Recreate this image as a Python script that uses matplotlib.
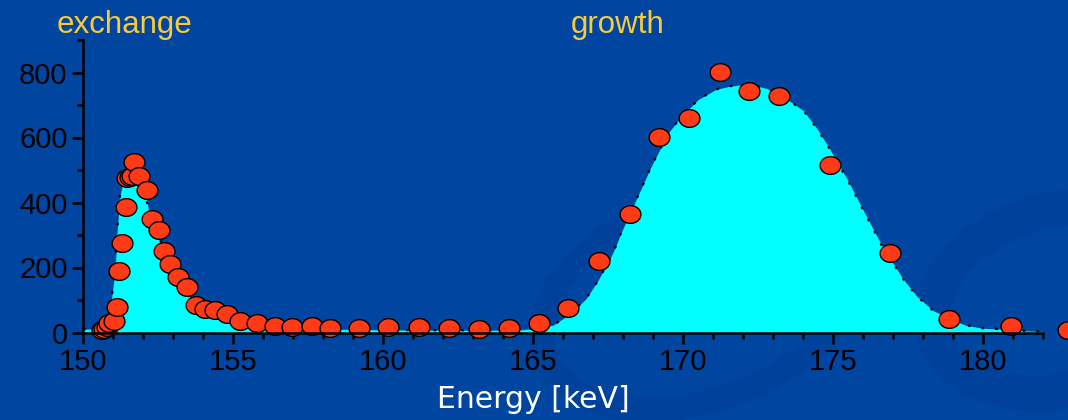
import matplotlib

matplotlib.use("Agg")
import matplotlib.pyplot as plt
import numpy as np
from matplotlib.patches import Ellipse
from matplotlib.path import Path
from matplotlib.ticker import MultipleLocator

# measured spectrum: energy [keV] and counts
energy = [
    150.62, 150.71, 150.79, 150.87, 151.02, 151.12, 151.21, 151.30, 151.42,
    151.48, 151.57, 151.64, 151.70, 151.88, 152.12, 152.30, 152.53, 152.71,
    152.90, 153.18, 153.48, 153.77, 154.05, 154.40, 154.79, 155.22, 155.81,
    156.40, 156.98, 157.62, 158.23, 159.20, 160.18, 161.20, 162.21, 163.19,
    164.21, 165.20, 166.18, 167.21, 168.23, 169.19, 170.21, 171.23, 172.20,
    173.21, 174.90, 176.90, 178.87, 180.92, 182.83,
]
counts = [
    8, 11, 18, 28, 36, 77, 189, 274, 385,
    476, 479, 481, 525, 482, 438, 348, 315, 252,
    211, 172, 139, 85, 72, 68, 58, 36, 28,
    21, 16, 21, 13, 13, 18, 18, 13, 10,
    13, 30, 76, 220, 364, 602, 659, 801, 742,
    729, 515, 246, 41, 20, 8,
]

# fitted line shape
fit_energy = [
    150.0, 150.5, 150.8, 150.96, 151.07, 151.14, 151.23, 151.32, 151.45,
    151.7, 152.0, 152.18, 152.46, 152.69, 153.01, 153.46, 153.9, 154.57,
    155.3, 156.0, 157.0, 158.5, 160.0, 162.0, 164.0, 164.57, 165.2, 165.68,
    166.2, 166.76, 167.14, 167.46, 167.73, 167.96, 168.46, 168.96, 169.54,
    170.0, 170.51, 171.1, 171.57, 172.18, 172.79, 173.4, 174.01, 174.46,
    174.81, 175.46, 176.03, 176.62, 177.34, 177.79, 178.34, 179.39, 180.0,
    180.72, 181.27, 182.0,
]
fit_counts = [
    10, 12, 30, 110, 192, 315, 418, 459, 465,
    468, 462, 377, 315, 254, 192, 121, 69, 44,
    28, 20, 14, 10, 8, 7, 7, 8, 14, 23,
    55, 103, 156, 208, 259, 312, 413, 515, 618,
    670, 717, 748, 758, 764, 751, 722, 683, 628,
    577, 474, 372, 269, 164, 112, 67, 23, 13,
    10, 6, 3,
]

x_ticks = [150, 155, 160, 165, 170, 175, 180]
y_ticks = [0, 200, 400, 600, 800]
peak_labels = ["exchange", "growth"]

BG = "#0046A0"
SWIRL = "#003D92"
FILL = "#00FFFF"
MARKER = "#FF3A17"
GOLD = "#F7CB3A"

# slightly flattened ellipse for the data markers
t = np.linspace(0, 2 * np.pi, 64)
ellipse = Path(np.column_stack([np.cos(t), 0.85 * np.sin(t)]), closed=True)

fig = plt.figure(figsize=(10.68, 4.2), dpi=100, facecolor=BG)

# faint background swirls of the slide template
bg = fig.add_axes([0, 0, 1, 1], zorder=-1)
bg.set_xlim(0, 1068)
bg.set_ylim(420, 0)
bg.axis("off")
bg.add_patch(Ellipse((700, 300), 330, 200, angle=-20, fill=False,
                     ec=SWIRL, lw=18, alpha=0.35))
bg.add_patch(Ellipse((1060, 300), 260, 180, angle=-15, fill=False,
                     ec=SWIRL, lw=26, alpha=0.35))

ax = fig.add_axes([83 / 1068, 87.5 / 420, 960 / 1068, 292.5 / 420])
ax.set_facecolor("none")

ax.fill_between(fit_energy, 0, fit_counts, color=FILL, lw=0, zorder=2)
ax.plot(fit_energy, fit_counts, color="black", lw=1.6,
        linestyle=(0, (1.2, 5)), zorder=3)
ax.plot(energy, counts, linestyle="none", marker=ellipse, ms=15,
        mfc=MARKER, mec="black", mew=1.0, zorder=4, clip_on=False)

ax.set_xlim(150, 182)
ax.set_ylim(0, 900)
ax.set_xticks(x_ticks)
ax.set_yticks(y_ticks)
ax.xaxis.set_minor_locator(MultipleLocator(1))
ax.yaxis.set_minor_locator(MultipleLocator(100))

for side in ("top", "right"):
    ax.spines[side].set_visible(False)
for side in ("left", "bottom"):
    ax.spines[side].set_linewidth(1.8)
    ax.spines[side].set_color("black")
    ax.spines[side].set_zorder(5)

ax.tick_params(which="major", direction="out", length=8, width=1.8,
               color="black", labelsize=21, labelcolor="black")
ax.tick_params(which="minor", direction="out", length=4, width=1.8, color="black")
ax.tick_params(axis="x", pad=3)
ax.tick_params(axis="y", pad=3)
for lab in ax.get_xticklabels() + ax.get_yticklabels():
    lab.set_fontfamily("Liberation Sans")

fig.text(125 / 1068, 1 - 25 / 420, peak_labels[0], color=GOLD, fontsize=22.5,
         family="Liberation Sans", ha="center", va="center")
fig.text(618 / 1068, 1 - 25 / 420, peak_labels[1], color=GOLD, fontsize=22.5,
         family="Liberation Sans", ha="center", va="center")
fig.text(533 / 1068, 1 - 400 / 420, "Energy [keV]", color="white", fontsize=21.5,
         family="DejaVu Sans", ha="center", va="center")

fig.savefig("out.png", dpi=100, facecolor=BG)
